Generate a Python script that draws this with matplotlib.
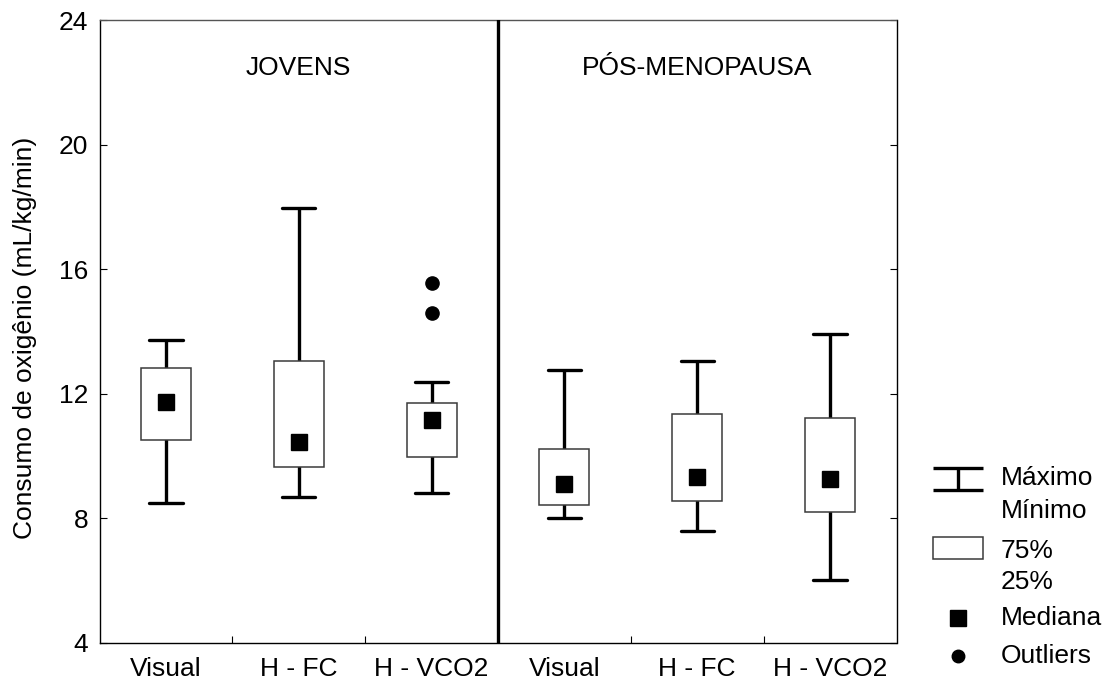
import matplotlib.pyplot as plt
from matplotlib.patches import Rectangle

plt.rcParams['font.family'] = ['Liberation Sans', 'DejaVu Sans']

# six groups: three methods for each population
methods = ["Visual", "H - FC", "H - VCO2", "Visual", "H - FC", "H - VCO2"]
groups = ["JOVENS", "PÓS-MENOPAUSA"]

v_min = [8.48, 8.69, 8.82, 8.02, 7.60, 6.02]
q25 = [10.52, 9.66, 9.97, 8.42, 8.55, 8.20]
median = [11.74, 10.44, 11.17, 9.09, 9.34, 9.28]
q75 = [12.83, 13.05, 11.69, 10.22, 11.36, 11.23]
v_max = [13.72, 17.97, 12.37, 12.76, 13.04, 13.91]

# outliers: (position index, value)
outlier_idx = [2, 2]
outlier_val = [15.55, 14.58]

yticks = [4, 8, 12, 16, 20, 24]

FS = 19
box_w = 0.376
cap_w = 0.25
wlw = 2.4

fig = plt.figure(figsize=(11.13, 6.84), dpi=100)
ax = fig.add_axes([99.5 / 1113, 1 - 643 / 684, 797 / 1113, 623 / 684])

pos = [i + 0.5 for i in range(len(methods))]

for x, lo, a, m, b, hi in zip(pos, v_min, q25, median, q75, v_max):
    ax.vlines(x, lo, hi, color="black", lw=wlw, zorder=2)
    ax.hlines([lo, hi], x - cap_w / 2, x + cap_w / 2, color="black", lw=wlw,
              zorder=2, capstyle="round")
    ax.add_patch(Rectangle((x - box_w / 2, a), box_w, b - a, facecolor="white",
                           edgecolor="#3a3a3a", lw=1.1, zorder=3))
    ax.plot(x, m, marker="s", ms=12, color="black", zorder=4)

ax.plot([pos[i] for i in outlier_idx], outlier_val, "o", ms=9.5,
        color="black", zorder=4, ls="none")

# separator between the two populations
ax.axvline(3, color="black", lw=2.4, zorder=5)

for k, g in enumerate(groups):
    ax.text(1.5 + 3 * k, 22.45, g, ha="center", va="center", fontsize=FS)

ax.set_xlim(0, 6)
ax.set_ylim(4, 24)
ax.set_yticks(yticks)
ax.set_yticklabels([str(t) for t in yticks], fontsize=FS)
ax.set_xticks([1, 2, 4, 5])
ax.set_xticklabels([])
ax.set_xticks(pos, minor=True)
ax.set_xticklabels(methods, minor=True, fontsize=FS)
ax.tick_params(axis="x", which="major", direction="in", length=5, width=0.8)
ax.tick_params(axis="x", which="minor", length=0, pad=10)
ax.tick_params(axis="y", direction="in", length=5, width=0.8, right=True, pad=8)
for s in ax.spines.values():
    s.set_linewidth(1.0)
ax.spines["top"].set_color("#555555")
ax.set_ylabel("Consumo de oxigênio (mL/kg/min)", fontsize=FS, va="center")
ax.yaxis.set_label_coords(-0.094, 0.49)

# legend drawn in pixel space to the right of the plot
lg = fig.add_axes([0, 0, 1, 1], zorder=-1)
lg.set_xlim(0, 1113)
lg.set_ylim(684, 0)
lg.axis("off")
lx, tx = 958, 1001
lg.hlines([468, 490], lx - 25, lx + 25, color="black", lw=wlw)
lg.vlines(lx, 468, 490, color="black", lw=wlw)
lg.add_patch(Rectangle((lx - 25, 537), 50, 22, facecolor="white",
                       edgecolor="#3a3a3a", lw=1.1))
lg.plot(lx, 618, marker="s", ms=11, color="black")
lg.plot(lx, 656, marker="o", ms=9, color="black")
legend_rows = [("Máximo", 478), ("Mínimo", 511), ("75%", 551), ("25%", 582),
               ("Mediana", 618), ("Outliers", 656)]
for label, y in legend_rows:
    lg.text(tx, y, label, ha="left", va="center", fontsize=FS)

fig.savefig("out.png", dpi=100)
